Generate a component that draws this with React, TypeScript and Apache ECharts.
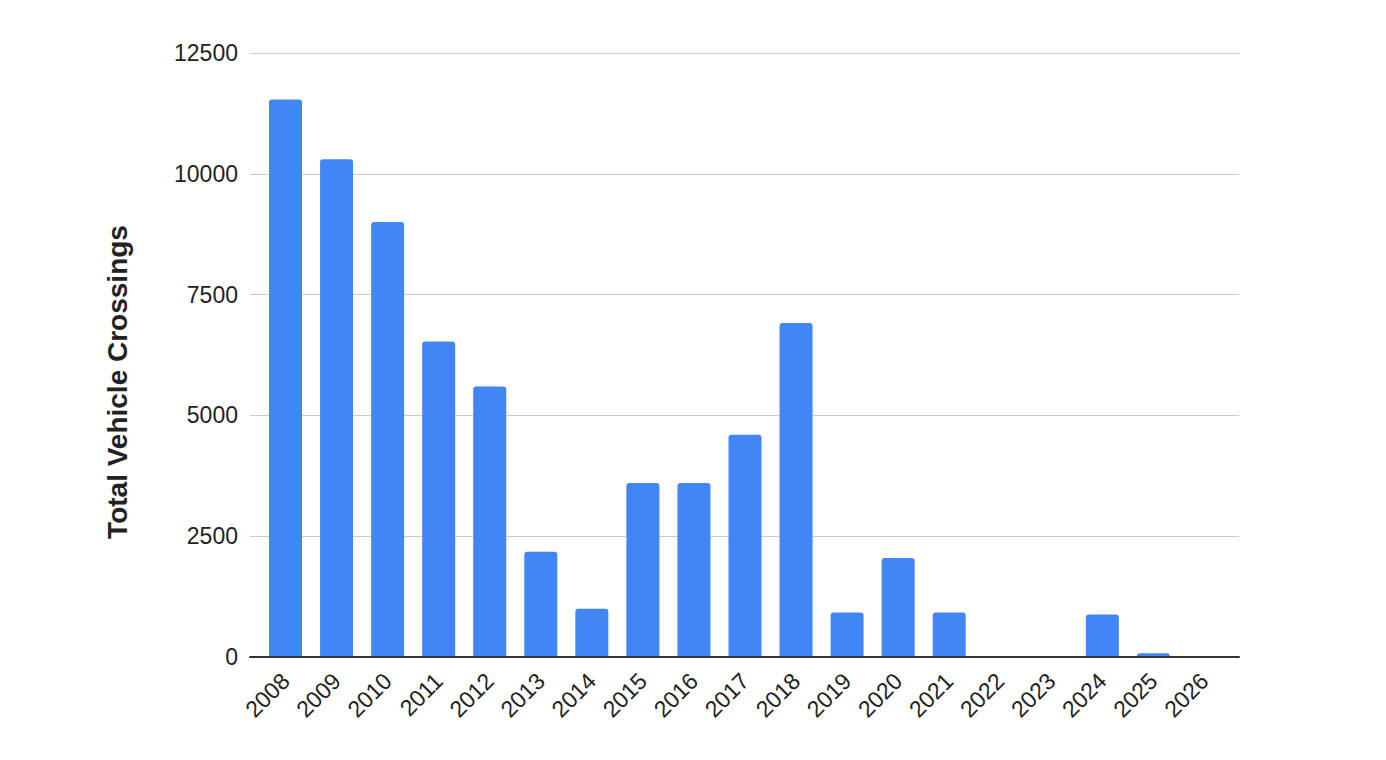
import { useEffect, useRef } from 'react'
import * as echarts from 'echarts'

const YEARS = [
  '2008', '2009', '2010', '2011', '2012', '2013', '2014', '2015', '2016', '2017',
  '2018', '2019', '2020', '2021', '2022', '2023', '2024', '2025', '2026',
]
const CROSSINGS = [
  11540, 10300, 9000, 6530, 5600, 2180, 1000, 3600, 3600, 4600,
  6910, 920, 2050, 920, 0, 0, 880, 80, 0,
]
const Y_MAX = 12500
const Y_STEP = 2500
const Y_TITLE = 'Total Vehicle Crossings'

const FONT = 'Arial, "Liberation Sans", sans-serif'

export default function App() {
  const elRef = useRef<HTMLDivElement>(null)

  useEffect(() => {
    if (!elRef.current) return
    const chart = echarts.init(elRef.current, undefined, { renderer: 'svg' })
    chart.setOption({
      animation: false,
      backgroundColor: '#fff',
      textStyle: { fontFamily: FONT },
      // grid 0 carries gridlines + baseline, grid 1 carries the bars (Sheets pads the categories)
      grid: [
        { left: 250, right: 147, top: 53, bottom: 103 },
        { left: 260, right: 156, top: 53, bottom: 103 },
      ],
      xAxis: [
        {
          type: 'category',
          gridIndex: 0,
          data: YEARS,
          z: 5,
          axisLine: { lineStyle: { color: '#333', width: 2 } },
          axisTick: { show: false },
          axisLabel: { show: false },
        },
        {
          type: 'category',
          gridIndex: 1,
          data: YEARS,
          axisLine: { show: false },
          axisTick: { show: false },
          axisLabel: {
            rotate: 45,
            margin: 20,
            fontSize: 23,
            color: '#222',
            fontFamily: FONT,
          },
        },
      ],
      yAxis: [
        {
          type: 'value',
          gridIndex: 0,
          min: 0,
          max: Y_MAX,
          interval: Y_STEP,
          axisLine: { show: false },
          axisTick: { show: false },
          axisLabel: {
            fontSize: 23,
            color: '#222',
            margin: 12,
            fontFamily: FONT,
            formatter: (v: number) => String(v),
          },
          splitLine: { lineStyle: { color: '#cccccc', width: 1 } },
        },
        {
          type: 'value',
          gridIndex: 1,
          min: 0,
          max: Y_MAX,
          interval: Y_STEP,
          show: false,
          splitLine: { show: false },
        },
      ],
      graphic: [
        {
          type: 'text',
          x: 117,
          y: 382,
          rotation: Math.PI / 2,
          style: {
            text: Y_TITLE,
            fontSize: 28,
            fontWeight: 'bold',
            fontFamily: FONT,
            fill: '#222',
            align: 'center',
            verticalAlign: 'middle',
          },
        },
      ],
      series: [
        {
          type: 'bar',
          xAxisIndex: 1,
          yAxisIndex: 1,
          data: CROSSINGS,
          barWidth: 33,
          itemStyle: { color: '#4285f4', borderRadius: [3, 3, 0, 0] },
        },
      ],
    })
    return () => chart.dispose()
  }, [])

  return (
    <div
      ref={elRef}
      style={{ position: 'fixed', left: 0, top: 0, width: 1386, height: 760 }}
    />
  )
}
